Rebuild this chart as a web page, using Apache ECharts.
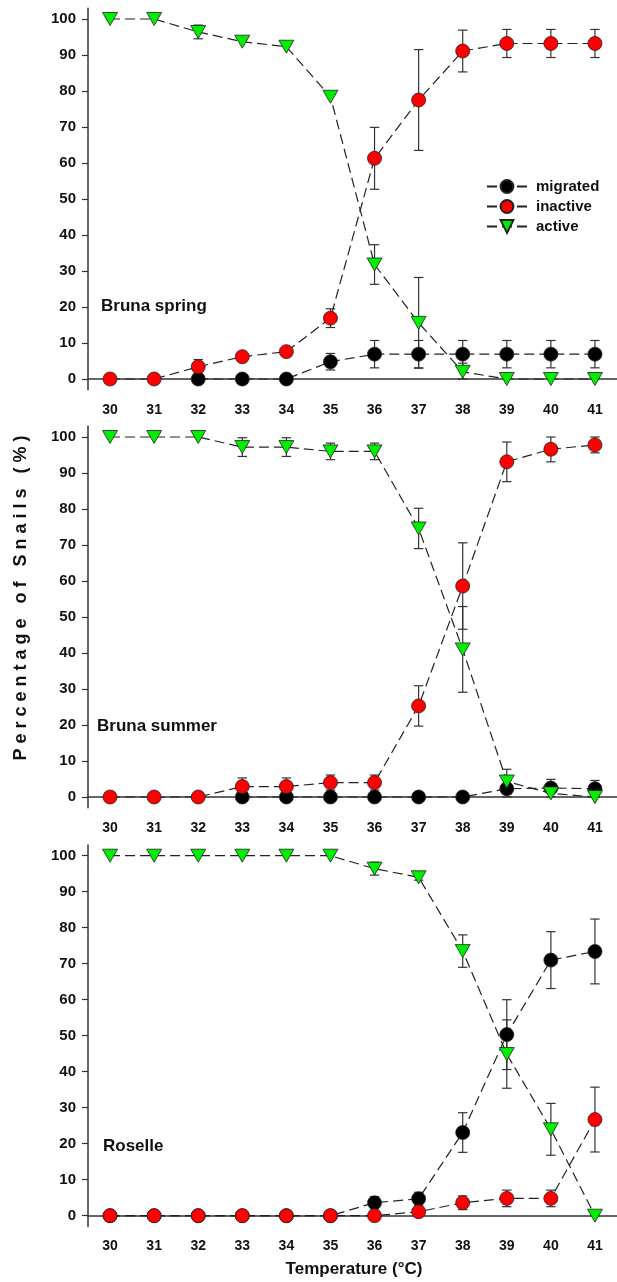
<!DOCTYPE html>
<html>
<head>
<meta charset="utf-8">
<script src="https://cdn.jsdelivr.net/npm/echarts@6/dist/echarts.min.js"></script>
<style>
html,body{margin:0;padding:0;background:#fff;}
#chart{width:617px;height:1282px;}
</style>
</head>
<body>
<div id="chart"></div>
<script>
// ---- Data ----
const temps = ['30','31','32','33','34','35','36','37','38','39','40','41'];
const yTicks = [0,10,20,30,40,50,60,70,80,90,100];
const panelNames = ['Bruna spring','Bruna summer','Roselle'];
const seriesNames = ['migrated','inactive','active'];

// Bruna spring
const migrated1    = [null,null,0,0,0,4.8,6.9,6.9,6.9,6.9,6.9,6.9];
const migratedErr1 = [0,0,0,0,0,2.3,3.8,3.8,3.8,3.8,3.8,3.8];
const inactive1    = [0,0,3.4,6.2,7.6,16.9,61.3,77.5,91.1,93.2,93.2,93.2];
const inactiveErr1 = [0,0,2.0,0,0,2.6,8.6,14.0,5.8,3.9,3.9,3.9];
const active1      = [100,100,96.4,93.7,92.3,78.4,31.8,15.6,2.0,0,0,0];
const activeErr1   = [0,0,1.9,0,0,0,5.5,12.6,2.4,0,0,0];

// Bruna summer
const migrated2    = [null,null,null,0,0,0,0,0,0,2.3,2.5,2.3];
const migratedErr2 = [0,0,0,0,0,0,0,0,0,2.3,2.4,2.3];
const inactive2    = [0,0,0,2.9,2.9,4.0,4.0,25.3,58.6,93.1,96.6,97.8];
const inactiveErr2 = [0,0,0,2.4,2.4,2.1,2.1,5.6,12.0,5.5,3.5,2.2];
const active2      = [100,100,100,97.2,97.2,96.0,96.0,74.6,41.0,4.3,1.0,0];
const activeErr2   = [0,0,0,2.6,2.6,2.3,2.3,5.6,11.9,3.4,0,0];

// Roselle
const migrated3    = [0,0,0,0,0,0,3.6,4.7,23.1,50.3,71.0,73.4];
const migratedErr3 = [0,0,0,0,0,0,1.7,1.8,5.5,9.7,7.9,9.0];
const inactive3    = [0,0,0,0,0,0,0,1.1,3.6,4.8,4.8,26.7];
const inactiveErr3 = [0,0,0,0,0,0,0,0,1.9,2.3,2.3,9.0];
const active3      = [100,100,100,100,100,100,96.4,94.0,73.5,44.9,24.0,0];
const activeErr3   = [0,0,0,0,0,0,1.8,0.8,4.5,9.5,7.2,0];

const panels = [
  {vals:[migrated1,inactive1,active1], errs:[migratedErr1,inactiveErr1,activeErr1]},
  {vals:[migrated2,inactive2,active2], errs:[migratedErr2,inactiveErr2,activeErr2]},
  {vals:[migrated3,inactive3,active3], errs:[migratedErr3,inactiveErr3,activeErr3]}
];

// ---- Styles ----
const FONT = 'Arial, "Liberation Sans", sans-serif';
const colors = ['#000000','#ff0000','#00ee00'];
const symbols = ['circle','circle','triangle'];
const symSizes = [14,14,[15,13]];
const symRot = [0,0,180];
const gridTops = [8.2, 426.2, 844.9];
const gridH = 381.6;

const grids = [], xAxes = [], yAxes = [], series = [];
gridTops.forEach((top, p) => {
  grids.push({left:88, width:532, top:top, height:gridH});
  xAxes.push({
    type:'category', gridIndex:p, data:temps, boundaryGap:true,
    axisLine:{lineStyle:{color:'#333', width:1.5}},
    axisTick:{alignWithLabel:true, length:6, lineStyle:{color:'#333', width:1.2}},
    axisLabel:{margin:13, color:'#111', fontSize:14, fontWeight:'bold', fontFamily:FONT},
    splitLine:{show:false}
  });
  yAxes.push({
    type:'value', gridIndex:p, min:-3, max:103,
    axisLine:{show:true, lineStyle:{color:'#333', width:1.5}},
    axisTick:{show:true, length:6, customValues:yTicks, lineStyle:{color:'#333', width:1.2}},
    axisLabel:{margin:12, color:'#111', fontSize:15, fontWeight:'bold', fontFamily:FONT, customValues:yTicks},
    splitLine:{show:false}
  });
  // error bars
  const errData = [];
  for (let s = 0; s < 3; s++) {
    const v = panels[p].vals[s], e = panels[p].errs[s];
    for (let i = 0; i < temps.length; i++) {
      if (v[i] != null && e[i] > 0) {
        errData.push([i, Math.max(0, v[i]-e[i]), Math.min(100, v[i]+e[i])]);
      }
    }
  }
  series.push({
    type:'custom', xAxisIndex:p, yAxisIndex:p, z:1, silent:true,
    data:errData,
    renderItem:function(params, api){
      const lo = api.coord([api.value(0), api.value(1)]);
      const hi = api.coord([api.value(0), api.value(2)]);
      const hw = 4.7;
      const st = {stroke:'#333', lineWidth:1.2};
      return {type:'group', children:[
        {type:'line', shape:{x1:lo[0],y1:lo[1],x2:hi[0],y2:hi[1]}, style:st},
        {type:'line', shape:{x1:lo[0]-hw,y1:lo[1],x2:lo[0]+hw,y2:lo[1]}, style:st},
        {type:'line', shape:{x1:hi[0]-hw,y1:hi[1],x2:hi[0]+hw,y2:hi[1]}, style:st}
      ]};
    }
  });
  for (let s = 0; s < 3; s++) {
    series.push({
      type:'line', name:seriesNames[s], xAxisIndex:p, yAxisIndex:p, z:2,
      data:panels[p].vals[s],
      symbol:symbols[s], symbolSize:symSizes[s], symbolRotate:symRot[s],
      showAllSymbol:true, connectNulls:false, animation:false,
      lineStyle:{color:'#222', width:1.2, type:[10,5]},
      itemStyle:{color:colors[s], borderColor:'#222', borderWidth:0.8, opacity:1}
    });
  }
});

const chart = echarts.init(document.getElementById('chart'), null, {renderer:'canvas'});
chart.setOption({
  animation:false,
  backgroundColor:'#fff',
  grid:grids, xAxis:xAxes, yAxis:yAxes, series:series,
  legend:{
    data:seriesNames, orient:'vertical', left:481, top:174,
    itemWidth:40, itemHeight:16, itemGap:5,
    textStyle:{fontSize:15, fontWeight:'bold', color:'#111', fontFamily:FONT, padding:[0,0,0,4]}
  },
  graphic:[
    {type:'text', x:101, y:306.7, style:{text:panelNames[0], font:'bold 17px '+FONT, fill:'#111', verticalAlign:'middle'}},
    {type:'text', x:97, y:726, style:{text:panelNames[1], font:'bold 17px '+FONT, fill:'#111', verticalAlign:'middle'}},
    {type:'text', x:103, y:1146, style:{text:panelNames[2], font:'bold 17px '+FONT, fill:'#111', verticalAlign:'middle'}},
    {type:'text', x:354, y:1269, style:{text:'Temperature (°C)', font:'bold 17px '+FONT, fill:'#111', align:'center', verticalAlign:'middle'}},
    {type:'text', x:21, y:598, rotation:Math.PI/2, style:{text:'P e r c e n t a g e   o f   S n a i l s   ( % )', font:'bold 18px '+FONT, fill:'#111', align:'center', verticalAlign:'middle'}}
  ]
});
</script>
</body>
</html>
